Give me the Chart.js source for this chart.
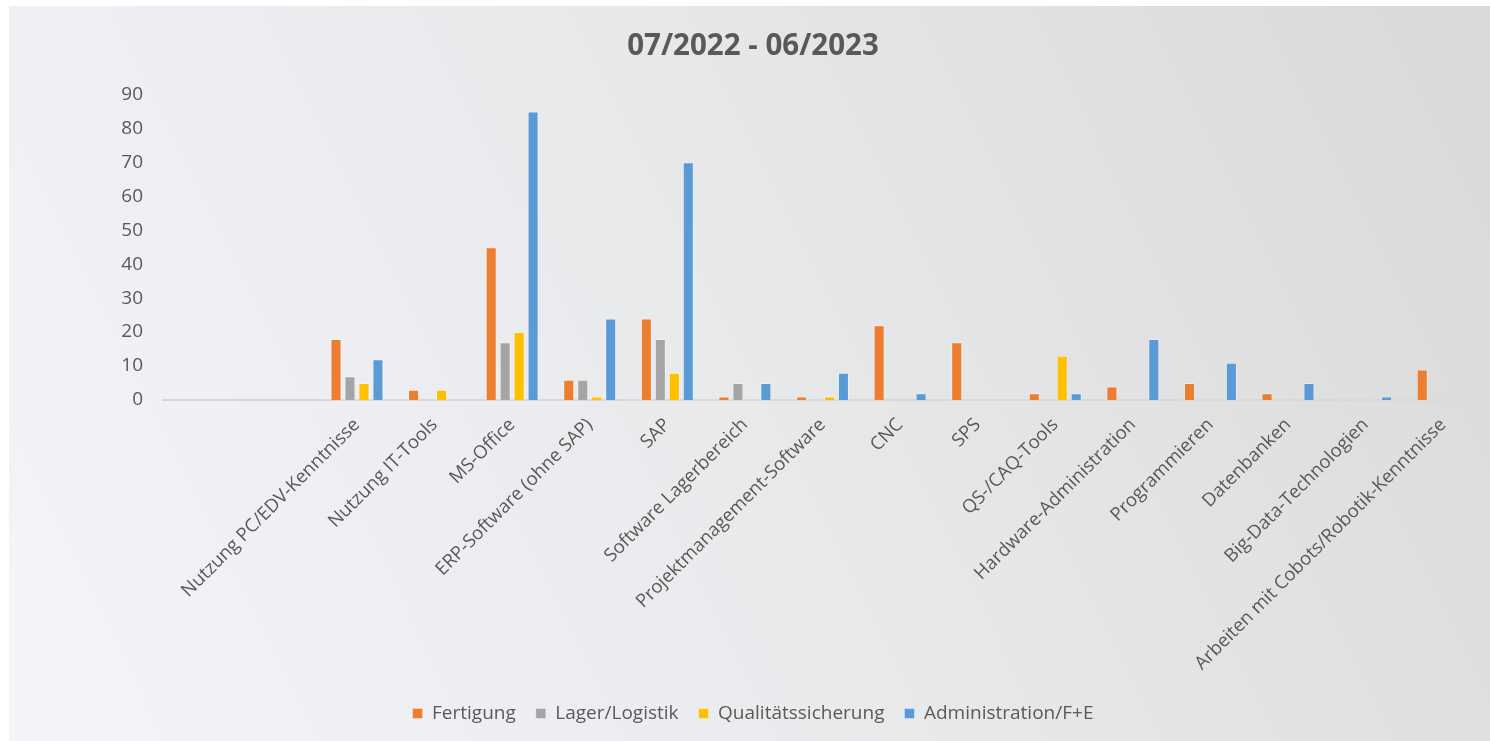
<!DOCTYPE html>
<html>
<head>
<meta charset="utf-8">
<script src="https://cdn.jsdelivr.net/npm/chart.js@4/dist/chart.umd.min.js"></script>
<style>
  html, body { margin: 0; padding: 0; background: #ffffff; }
  #wrap { width: 1490px; height: 741px; position: relative; }
</style>
</head>
<body>
<div id="wrap"><canvas id="c" width="1490" height="741"></canvas></div>
<script>
const categories = [
  '', '',
  'Nutzung PC/EDV-Kenntnisse',
  'Nutzung IT-Tools',
  'MS-Office',
  'ERP-Software (ohne SAP)',
  'SAP',
  'Software Lagerbereich',
  'Projektmanagement-Software',
  'CNC',
  'SPS',
  'QS-/CAQ-Tools',
  'Hardware-Administration',
  'Programmieren',
  'Datenbanken',
  'Big-Data-Technologien',
  'Arbeiten mit Cobots/Robotik-Kenntnisse'
];
const fertigung          = [null, null, 18, 3, 45, 6, 24, 1, 1, 22, 17, 2, 4, 5, 2, null, 9];
const lagerLogistik      = [null, null, 7, null, 17, 6, 18, 5, null, null, null, null, null, null, null, null, null];
const qualitaet          = [null, null, 5, 3, 20, 1, 8, null, 1, null, null, 13, null, null, null, null, null];
const administration     = [null, null, 12, null, 85, 24, 70, 5, 8, 2, null, 2, 18, 11, 5, 1, null];
const seriesNames = ['Fertigung', 'Lager/Logistik', 'Qualitätssicherung', 'Administration/F+E'];
const yTicks = [0, 10, 20, 30, 40, 50, 60, 70, 80, 90];
const chartTitle = '07/2022 - 06/2023';

const colors = ['#ED7D31', '#A5A5A5', '#FFC000', '#5B9BD5'];
const textColor = '#595959';
const FONT = "'Open Sans', sans-serif";
const PAD_BOTTOM = 8;

const bgPlugin = {
  id: 'panelBg',
  beforeDraw(chart) {
    const ctx = chart.ctx;
    ctx.save();
    const x0 = 9, y0 = 6, x1 = 1490, y1 = 741;
    const g = ctx.createLinearGradient(x0, y1, x1, y0);
    g.addColorStop(0, '#f4f5f9');
    g.addColorStop(0.5, '#e8e9eb');
    g.addColorStop(1, '#d9d9d9');
    ctx.fillStyle = g;
    ctx.fillRect(x0, y0, x1 - x0, y1 - y0);
    ctx.restore();
  }
};

const mk = (label, data, i) => ({
  label, data,
  backgroundColor: colors[i],
  borderColor: 'rgba(255,255,255,0.35)',
  borderWidth: 1,
  categoryPercentage: 0.72,
  barPercentage: 0.79
});

new Chart(document.getElementById('c'), {
  type: 'bar',
  data: {
    labels: categories,
    datasets: [
      mk(seriesNames[0], fertigung, 0),
      mk(seriesNames[1], lagerLogistik, 1),
      mk(seriesNames[2], qualitaet, 2),
      mk(seriesNames[3], administration, 3)
    ]
  },
  plugins: [bgPlugin],
  options: {
    responsive: false,
    animation: false,
    layout: { padding: { left: 24, right: 8, top: 6, bottom: PAD_BOTTOM } },
    plugins: {
      title: {
        display: true,
        text: chartTitle,
        color: textColor,
        font: { family: FONT, size: 29.5, weight: 'bold' },
        padding: { top: 23, bottom: 30 }
      },
      legend: {
        position: 'bottom',
        labels: {
          color: textColor,
          font: { family: FONT, size: 19 },
          boxWidth: 10,
          boxHeight: 10,
          padding: 20
        }
      },
      tooltip: { enabled: false }
    },
    scales: {
      x: {
        grid: { display: false, drawTicks: false },
        border: { display: true, color: '#d9d9d9', width: 2 },
        ticks: {
          color: textColor,
          font: { family: FONT, size: 18.5 },
          minRotation: 45,
          maxRotation: 45,
          autoSkip: false,
          padding: 14
        },
        afterFit(scale) {
          const lg = scale.chart.legend;
          const lh = lg && lg.height ? lg.height : 40;
          scale.height = 741 - 400 - lh - PAD_BOTTOM;
        }
      },
      y: {
        min: 0,
        max: 90,
        grid: { display: false, drawTicks: false },
        border: { display: false },
        afterBuildTicks(scale) {
          scale.ticks = yTicks.map(v => ({ value: v }));
        },
        ticks: {
          color: textColor,
          font: { family: FONT, size: 19 },
          padding: 20
        },
        afterFit(scale) {
          scale.width = 163 - 24;
        }
      }
    }
  }
});
</script>
</body>
</html>
